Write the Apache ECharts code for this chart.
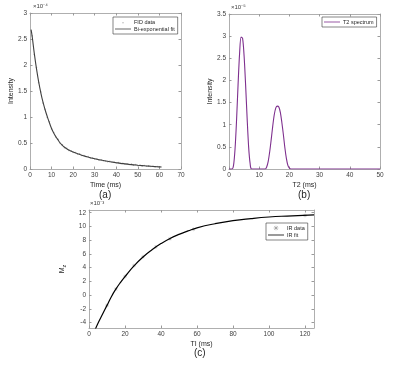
<!DOCTYPE html>
<html>
<head>
<meta charset="utf-8">
<script src="https://cdn.jsdelivr.net/npm/echarts@6/dist/echarts.min.js"></script>
<style>
  html, body { margin: 0; padding: 0; background: #fff; }
  #chart { width: 400px; height: 365px; }
</style>
</head>
<body>
<div id="chart"></div>
<script>
// (a) FID data + bi-exponential fit (intensity in units of 1e-4)
const fidTime = [1, 2, 3, 4, 5, 6, 7, 8, 9, 10, 11, 12, 13, 14, 15, 16, 17, 18, 19, 20,
  21, 22, 23, 24, 25, 26, 27, 28, 29, 30, 31, 32, 33, 34, 35, 36, 37, 38, 39, 40,
  41, 42, 43, 44, 45, 46, 47, 48, 49, 50, 51, 52, 53, 54, 55, 56, 57, 58, 59, 60];
const fidData = [2.56, 2.2, 1.95, 1.66, 1.48, 1.27, 1.15, 0.99, 0.91, 0.77, 0.7, 0.61, 0.57, 0.49, 0.465, 0.41, 0.4, 0.355, 0.35, 0.32,
  0.315, 0.29, 0.29, 0.26, 0.26, 0.235, 0.24, 0.21, 0.215, 0.19, 0.195, 0.17, 0.175, 0.16, 0.16, 0.14, 0.15, 0.13, 0.13, 0.115,
  0.125, 0.105, 0.11, 0.095, 0.1, 0.085, 0.095, 0.075, 0.085, 0.065, 0.075, 0.06, 0.068, 0.052, 0.06, 0.048, 0.055, 0.042, 0.048, 0.036];
const fitTime = [0.5, 1, 2, 3, 4, 5, 6, 7, 8, 9, 10, 11, 12, 13, 14, 15, 16, 17, 18, 19, 20,
  22, 24, 26, 28, 30, 32, 34, 36, 38, 40, 42, 44, 46, 48, 50, 52, 54, 56, 58, 60, 61];
const fitData = [2.68, 2.55, 2.22, 1.93, 1.68, 1.47, 1.29, 1.14, 1.01, 0.89, 0.78, 0.69, 0.62, 0.56, 0.5, 0.455, 0.42, 0.39, 0.365, 0.345, 0.325,
  0.295, 0.265, 0.24, 0.217, 0.197, 0.179, 0.163, 0.148, 0.134, 0.121, 0.109, 0.099, 0.089, 0.08, 0.072, 0.065, 0.058, 0.052, 0.046, 0.04, 0.038];

// (b) T2 spectrum (units of 1e-5)
const t2Time = [0, 1, 1.5, 2, 2.5, 3, 3.5, 4, 4.5, 5, 5.5, 6, 6.5, 7, 7.5, 12,
  12.5, 13, 13.5, 14, 14.5, 15, 15.5, 16, 16.5, 17, 17.5, 18, 18.5, 19, 19.5, 20, 20.5, 50];
const t2Amp = [0, 0, 0.08, 0.45, 1.1, 1.9, 2.6, 2.98, 2.95, 2.55, 1.9, 1.15, 0.5, 0.12, 0, 0,
  0.05, 0.18, 0.4, 0.68, 0.98, 1.23, 1.38, 1.42, 1.4, 1.28, 1.05, 0.78, 0.48, 0.24, 0.08, 0.02, 0, 0];

// (c) inversion recovery (units of 1e-3)
const irTime = [10, 15, 20, 25, 30, 37, 45, 58, 120];
const irData = [-1.5, 0.9, 2.7, 4.3, 5.6, 7.0, 8.2, 9.6, 11.6];
const irFitTime = [3, 5, 7.5, 10, 12.5, 15, 17.5, 20, 25, 30, 35, 40, 45, 50, 55, 60, 70, 80, 90, 100, 110, 125];
const irFitData = [-5.3, -4.1, -2.8, -1.5, -0.2, 0.9, 1.85, 2.7, 4.25, 5.55, 6.6, 7.5, 8.25, 8.85, 9.35, 9.8, 10.4, 10.85, 11.15, 11.38, 11.52, 11.68];

const irXTicks = [0, 20, 40, 60, 80, 100, 120];
const irYTicks = [-4, -2, 0, 2, 4, 6, 8, 10, 12];

const font = 'Liberation Sans, Arial, sans-serif';
const axisColor = '#9a9a9a';
const labelColor = '#404040';

function pair(xs, ys) {
  return xs.map((x, i) => [x, ys[i]]);
}

function xAx(grid, min, max, interval, name, custom) {
  const bottom = {
    gridIndex: grid, type: 'value', min: min, max: max, interval: interval,
    name: name, nameLocation: 'middle', nameGap: 13,
    nameTextStyle: { fontFamily: font, fontSize: 7, color: '#262626' },
    axisLine: { onZero: false, lineStyle: { color: axisColor, width: 0.8 } },
    axisTick: { inside: true, length: 2.5, lineStyle: { color: axisColor } },
    axisLabel: { fontFamily: font, fontSize: 6.5, color: labelColor, margin: 3 },
    splitLine: { show: false },
  };
  const top = {
    gridIndex: grid, type: 'value', position: 'top', min: min, max: max, interval: interval,
    axisLine: { onZero: false, lineStyle: { color: axisColor, width: 0.8 } },
    axisTick: { inside: true, length: 2.5, lineStyle: { color: axisColor } },
    axisLabel: { show: false },
    splitLine: { show: false },
  };
  if (custom) {
    bottom.axisTick.customValues = custom;
    bottom.axisLabel.customValues = custom;
    top.axisTick.customValues = custom;
  }
  return [bottom, top];
}

function yAx(grid, min, max, interval, name, custom) {
  const left = {
    gridIndex: grid, type: 'value', min: min, max: max, interval: interval,
    name: name, nameLocation: 'middle', nameGap: 13, nameRotate: 90,
    nameTextStyle: { fontFamily: font, fontSize: 7, color: '#262626' },
    axisLine: { onZero: false, lineStyle: { color: axisColor, width: 0.8 } },
    axisTick: { inside: true, length: 2.5, lineStyle: { color: axisColor } },
    axisLabel: { fontFamily: font, fontSize: 6.5, color: labelColor, margin: 3 },
    splitLine: { show: false },
  };
  const right = {
    gridIndex: grid, type: 'value', position: 'right', min: min, max: max, interval: interval,
    axisLine: { onZero: false, lineStyle: { color: axisColor, width: 0.8 } },
    axisTick: { inside: true, length: 2.5, lineStyle: { color: axisColor } },
    axisLabel: { show: false },
    splitLine: { show: false },
  };
  if (custom) {
    left.axisTick.customValues = custom;
    left.axisLabel.customValues = custom;
    right.axisTick.customValues = custom;
  }
  return [left, right];
}

const xa = xAx(0, 0, 70, 10, 'Time (ms)');
const xb = xAx(1, 0, 50, 10, 'T2 (ms)');
const xc = xAx(2, 0, 125, 20, 'TI (ms)', irXTicks);
const ya = yAx(0, 0, 3, 0.5, 'Intensity');
const yb = yAx(1, 0, 3.5, 0.5, 'Intensity');
const yc = yAx(2, -4.8, 12.4, 2, '{m|M}{s|z}', irYTicks);
yc[0].nameGap = 12;
yc[0].nameTextStyle.rich = {
  m: { fontFamily: font, fontSize: 7, color: '#262626' },
  s: { fontFamily: font, fontSize: 5.5, color: '#262626', padding: [5, 0, 0, 0] },
};

const asterisk = 'path://M4.6,0H5.4V10H4.6Z M0,4.6H10V5.4H0Z M1.2,1.8L1.8,1.2L8.8,8.2L8.2,8.8Z M8.2,1.2L8.8,1.8L1.8,8.8L1.2,8.2Z';
const lineIcon = 'path://M0,0H20V1H0Z';
const dotIcon = 'path://M0,0 M10,2a0.9,0.9 0 1,0 0.01,0Z M20,4';

const legendBase = {
  orient: 'vertical',
  backgroundColor: '#fff',
  borderColor: '#333',
  borderWidth: 0.6,
  borderRadius: 0,
  padding: [2, 3, 2, 2],
  itemGap: 1,
  itemWidth: 16,
  itemHeight: 5,
  textStyle: { fontFamily: font, fontSize: 5.5, color: '#262626', padding: [0, 0, 0, -2] },
};

const option = {
  animation: false,
  grid: [
    { left: 30, top: 13, width: 151, height: 156 },
    { left: 229, top: 14, width: 151, height: 155 },
    { left: 89, top: 210, width: 225, height: 118 },
  ],
  xAxis: [xa[0], xa[1], xb[0], xb[1], xc[0], xc[1]],
  yAxis: [ya[0], ya[1], yb[0], yb[1], yc[0], yc[1]],
  legend: [
    Object.assign({}, legendBase, {
      left: 113, top: 17,
      data: [{ name: 'FID data', icon: dotIcon }, { name: 'Bi-exponential fit', icon: lineIcon }],
    }),
    Object.assign({}, legendBase, {
      left: 322, top: 17,
      data: [{ name: 'T2 spectrum', icon: lineIcon }],
    }),
    Object.assign({}, legendBase, {
      left: 266, top: 223,
      data: [{ name: 'IR data' }, { name: 'IR fit', icon: lineIcon }],
    }),
  ],
  graphic: [
    { type: 'text', left: 33, top: 3, style: { text: '×10⁻⁴', fontFamily: font, fontSize: 6, fill: '#404040' } },
    { type: 'text', left: 231, top: 4, style: { text: '×10⁻⁵', fontFamily: font, fontSize: 6, fill: '#404040' } },
    { type: 'text', left: 90, top: 200, style: { text: '×10⁻³', fontFamily: font, fontSize: 6, fill: '#404040' } },
    { type: 'text', left: 99, top: 190, style: { text: '(a)', fontFamily: font, fontSize: 10, fill: '#262626' } },
    { type: 'text', left: 298, top: 190, style: { text: '(b)', fontFamily: font, fontSize: 10, fill: '#262626' } },
    { type: 'text', left: 194, top: 348, style: { text: '(c)', fontFamily: font, fontSize: 10, fill: '#262626' } },
  ],
  series: [
    {
      name: 'FID data', type: 'scatter', xAxisIndex: 0, yAxisIndex: 0,
      symbol: 'circle', symbolSize: 1.6,
      itemStyle: { color: '#a0a0a0' },
      data: pair(fidTime, fidData),
    },
    {
      name: 'Bi-exponential fit', type: 'line', xAxisIndex: 0, yAxisIndex: 0,
      symbol: 'none', smooth: true,
      lineStyle: { color: '#404040', width: 1.1 },
      itemStyle: { color: '#404040' },
      data: pair(fitTime, fitData),
    },
    {
      name: 'T2 spectrum', type: 'line', xAxisIndex: 2, yAxisIndex: 2,
      symbol: 'none', smooth: 0.3,
      lineStyle: { color: '#7E2F8E', width: 1.1 },
      itemStyle: { color: '#7E2F8E' },
      data: pair(t2Time, t2Amp),
    },
    {
      name: 'IR data', type: 'scatter', xAxisIndex: 4, yAxisIndex: 4,
      symbol: asterisk, symbolSize: 4,
      itemStyle: { color: '#888' },
      data: pair(irTime, irData),
    },
    {
      name: 'IR fit', type: 'line', xAxisIndex: 4, yAxisIndex: 4,
      symbol: 'none', smooth: true,
      lineStyle: { color: '#000', width: 1.2 },
      itemStyle: { color: '#000' },
      data: pair(irFitTime, irFitData),
    },
  ],
};

const chart = echarts.init(document.getElementById('chart'), null, { renderer: 'canvas' });
chart.setOption(option);
</script>
</body>
</html>
